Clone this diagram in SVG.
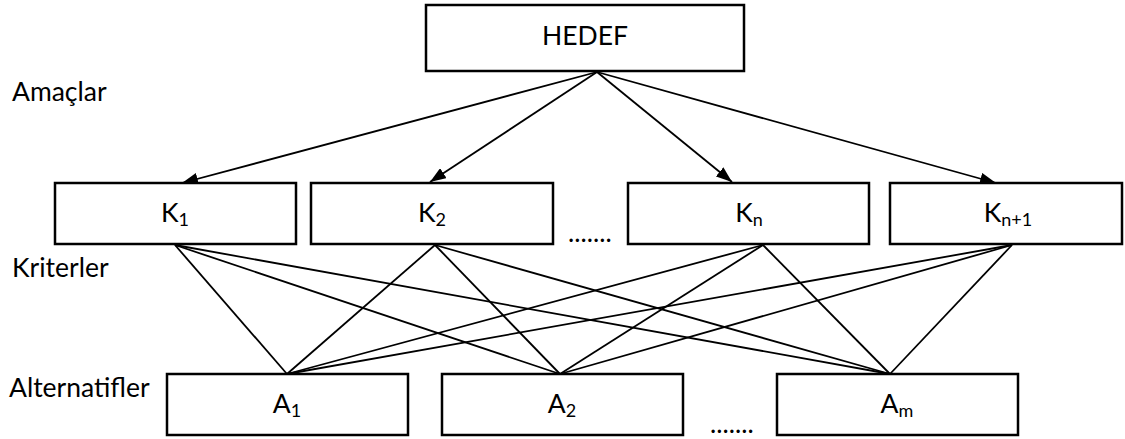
<svg xmlns="http://www.w3.org/2000/svg" width="1125" height="439" viewBox="0 0 1125 439">
<style>
.box{fill:#fff;stroke:#000;stroke-width:2.5}
.lbl{font-family:Lato,"Liberation Sans",sans-serif;font-size:26.5px;fill:#000}
.c{text-anchor:middle}
.sub{font-size:18px}
.ln{stroke:#000;stroke-width:1.8;fill:none}
</style>
<defs>
<marker id="ah" viewBox="0 0 16 12" refX="16" refY="6" markerWidth="16" markerHeight="12" markerUnits="userSpaceOnUse" orient="auto">
<path d="M0,0 L16,6 L0,12 z" fill="#000"/>
</marker>
</defs>
<g id="connectors">
<g marker-end="url(#ah)">
<line class="ln" x1="597" y1="72" x2="182" y2="183"/>
<line class="ln" x1="597" y1="72" x2="430" y2="182"/>
<line class="ln" x1="597" y1="72" x2="732" y2="182"/>
<line class="ln" x1="597" y1="72" x2="996" y2="183"/>
</g>
<line class="ln" x1="175" y1="245" x2="287" y2="374"/>
<line class="ln" x1="175" y1="245" x2="560" y2="374"/>
<line class="ln" x1="175" y1="245" x2="890" y2="374"/>
<line class="ln" x1="435" y1="245" x2="287" y2="374"/>
<line class="ln" x1="435" y1="245" x2="560" y2="374"/>
<line class="ln" x1="435" y1="245" x2="890" y2="374"/>
<line class="ln" x1="763" y1="245" x2="287" y2="374"/>
<line class="ln" x1="763" y1="245" x2="560" y2="374"/>
<line class="ln" x1="763" y1="245" x2="890" y2="374"/>
<line class="ln" x1="1012" y1="245" x2="287" y2="374"/>
<line class="ln" x1="1012" y1="245" x2="560" y2="374"/>
<line class="ln" x1="1012" y1="245" x2="890" y2="374"/>
</g>
<g id="hedef">
<rect class="box" x="426" y="5" width="318" height="66"/>
<text class="lbl c" x="585" y="45">HEDEF</text>
</g>
<g id="k1">
<rect class="box" x="55" y="183" width="241" height="61"/>
<text class="lbl c" x="175" y="222">K<tspan class="sub" dy="4">1</tspan></text>
</g>
<g id="k2">
<rect class="box" x="311" y="183" width="242" height="61"/>
<text class="lbl c" x="432" y="222">K<tspan class="sub" dy="4">2</tspan></text>
</g>
<g id="kn">
<rect class="box" x="628" y="183" width="241" height="61"/>
<text class="lbl c" x="749" y="222">K<tspan class="sub" dy="4">n</tspan></text>
</g>
<g id="kn1">
<rect class="box" x="890" y="183" width="232" height="61"/>
<text class="lbl c" x="1008" y="222">K<tspan class="sub" dy="4">n+1</tspan></text>
</g>
<g id="a1">
<rect class="box" x="167" y="374" width="241" height="61"/>
<text class="lbl c" x="287" y="413">A<tspan class="sub" dy="4">1</tspan></text>
</g>
<g id="a2">
<rect class="box" x="442" y="374" width="241" height="61"/>
<text class="lbl c" x="562" y="413">A<tspan class="sub" dy="4">2</tspan></text>
</g>
<g id="am">
<rect class="box" x="777" y="374" width="241" height="61"/>
<text class="lbl c" x="897" y="413">A<tspan class="sub" dy="4">m</tspan></text>
</g>
<g id="labels">
<text class="lbl" x="12" y="101">Amaçlar</text>
<text class="lbl" x="12" y="277">Kriterler</text>
<text class="lbl" x="9" y="397">Alternatifler</text>
<text class="lbl" x="568" y="242">.......</text>
<text class="lbl" x="710" y="433">.......</text>
</g>
</svg>
